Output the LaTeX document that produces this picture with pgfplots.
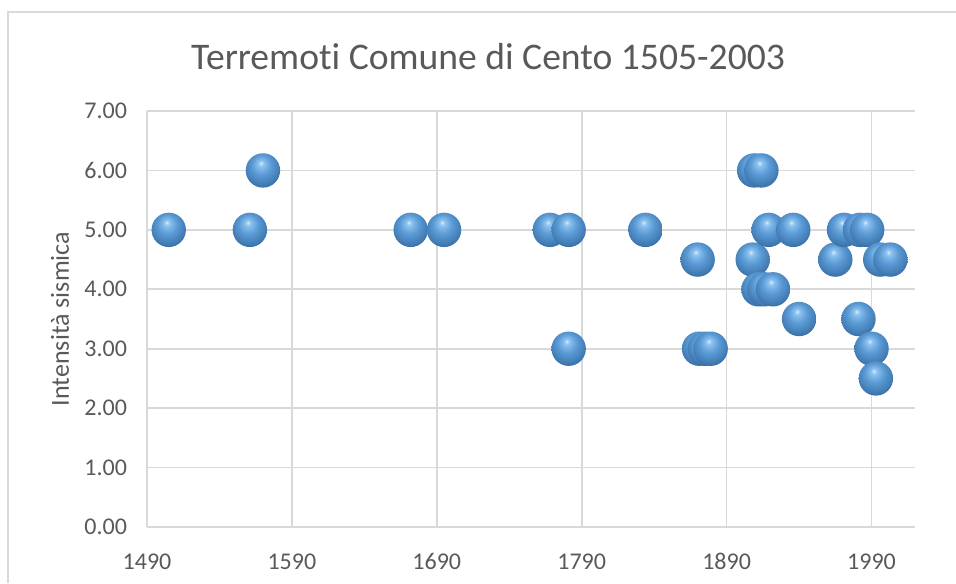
\documentclass[border=0pt]{standalone}
\usepackage{pgfplots}
\pgfplotsset{compat=1.18}
\usepackage{fontspec}
\setmainfont{Carlito}[Ligatures=NoCommon]
\definecolor{txt}{HTML}{595959}
\definecolor{grd}{HTML}{D9D9D9}
\definecolor{ballhi}{HTML}{D6ECFD}
\definecolor{balllt}{HTML}{8CC2F0}
\definecolor{ballmid}{HTML}{5B9BD5}
\definecolor{balldk}{HTML}{3F78B0}
\definecolor{ballrim}{HTML}{234C74}

% sfera tipo Excel: riflesso in alto, bordo scuro in basso
% (il quadrato centrale di 50bp copre il cerchio: raggio = 25bp)
\pgfdeclareradialshading{xlball}{\pgfpoint{-3bp}{11bp}}{%
    color(0bp)=(ballhi); color(4bp)=(balllt); color(14bp)=(ballmid);
    color(27bp)=(balldk); color(36bp)=(ballrim); color(50bp)=(ballrim)}
\pgfdeclareplotmark{xlball}{%
    \pgfpathcircle{\pgfpointorigin}{\pgfplotmarksize}%
    \pgfshadepath{xlball}{0}%
    \pgfusepath{}%
}

\begin{document}
\begin{tikzpicture}[x=1pt,y=1pt]
\useasboundingbox (0,0) rectangle (478,291.5);
% cornice del grafico (solo sinistra e sopra nello screenshot)
\draw[grd, line width=0.9pt] (4,0) -- (4,285.5) -- (478,285.5);
\node[txt, font=\fontsize{18.8}{20}\selectfont] at (244,263) {Terremoti Comune di Cento 1505-2003};
\begin{axis}[
    at={(73.5pt,28pt)}, anchor=south west,
    scale only axis, width=384pt, height=208pt,
    xmin=1490, xmax=2020, ymin=0, ymax=7,
    xtick={1490,1590,...,1990}, ytick={0,1,...,7},
    axis lines*=left,
    axis line style={grd, line width=0.8pt},
    grid=major, grid style={grd, line width=0.8pt},
    major tick length=0pt,
    /pgf/number format/assume math mode=true,
    tick label style={txt, font=\fontsize{12}{14}\selectfont},
    xticklabel style={anchor=base, yshift=-21pt, /pgf/number format/1000 sep={}},
    yticklabel style={xshift=-6.5pt, /pgf/number format/fixed,
        /pgf/number format/fixed zerofill, /pgf/number format/precision=2},
    ylabel={Intensità sismica},
    every axis y label/.style={at={(axis description cs:0,0.5)}, xshift=-43.5pt,
        rotate=90, anchor=center, txt, font=\fontsize{13}{15}\selectfont},
    clip=false,
]
\addplot[only marks, mark=xlball, mark size=8.6pt] coordinates {
    (1505,5) (1561,5) (1570,6) (1672,5) (1695,5)
    (1768,5) (1781,5) (1781,3) (1834,5)
    (1870,4.5) (1871,3) (1875,3) (1879,3)
    (1908,4.5) (1909,6) (1914,6)
    (1912,4) (1916,4) (1922,4)
    (1919,5) (1936,5) (1940,3.5)
    (1965,4.5) (1971,5) (1982,5) (1987,5)
    (1981,3.5) (1990,3) (1993,2.5)
    (1996,4.5) (2003,4.5)
};
\end{axis}
\end{tikzpicture}
\end{document}
